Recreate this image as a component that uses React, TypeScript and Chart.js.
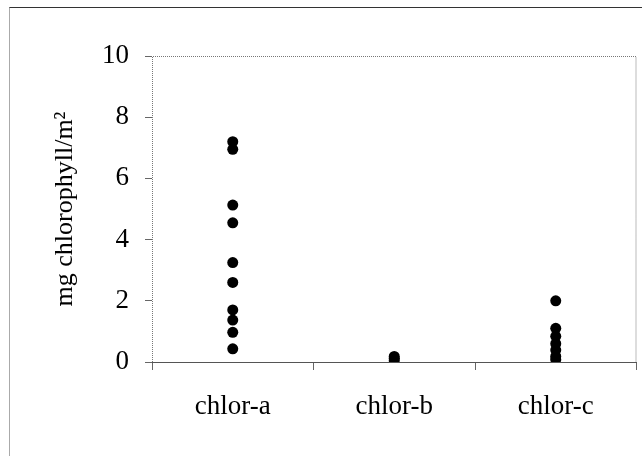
import React, { useEffect, useRef } from "react";
import { Chart, registerables } from "chart.js";

Chart.register(...registerables);

const categories = ["chlor-a", "chlor-b", "chlor-c"];
const chlorA = [7.2, 6.95, 5.13, 4.55, 3.25, 2.6, 1.7, 1.37, 0.97, 0.43];
const chlorB = [0.18, 0.12, 0.05];
const chlorC = [2.0, 1.1, 0.84, 0.6, 0.39, 0.18, 0.08];
const yTicks = [0, 2, 4, 6, 8, 10];
const yTitle = "mg chlorophyll/m\u00B2";

const FONT = "'Liberation Serif', 'Times New Roman', serif";

const plotFrame = {
  id: "plotFrame",
  afterDraw(chart: any) {
    const { ctx, chartArea } = chart;
    const { left, top, right, bottom } = chartArea;
    ctx.save();
    ctx.strokeStyle = "#777";
    ctx.lineWidth = 1;
    ctx.setLineDash([1, 1]);
    ctx.beginPath();
    ctx.moveTo(left + 0.5, bottom);
    ctx.lineTo(left + 0.5, top + 0.5);
    ctx.lineTo(right - 0.5, top + 0.5);
    ctx.lineTo(right - 0.5, bottom);
    ctx.stroke();
    ctx.restore();
  },
};

export default function App() {
  const ref = useRef<HTMLCanvasElement | null>(null);

  useEffect(() => {
    if (!ref.current) return;
    const series = [chlorA, chlorB, chlorC];
    const chart = new Chart(ref.current, {
      type: "scatter",
      data: {
        labels: categories,
        datasets: series.map((vals, i) => ({
          label: categories[i],
          data: vals.map((v) => ({ x: categories[i], y: v })),
          backgroundColor: "#000",
          borderColor: "#000",
          borderWidth: 0,
          pointRadius: 5.5,
          pointHoverRadius: 5.5,
        })),
      } as any,
      options: {
        responsive: false,
        animation: false,
        devicePixelRatio: 1,
        layout: { padding: { top: 56, right: 5, left: 0, bottom: 0 } },
        plugins: {
          legend: { display: false },
          tooltip: { enabled: false },
        },
        scales: {
          x: {
            type: "category",
            labels: categories,
            offset: true,
            afterFit: (s: any) => {
              s.height = 94;
            },
            grid: {
              offset: true,
              drawOnChartArea: false,
              drawTicks: true,
              tickLength: 8,
              tickColor: "#666",
            },
            border: { display: true, color: "#555", width: 1 },
            ticks: {
              color: "#000",
              font: { family: FONT, size: 27 },
              padding: 21,
              maxRotation: 0,
            },
          },
          y: {
            type: "linear",
            min: 0,
            max: 10,
            afterFit: (s: any) => {
              s.width = 152;
            },
            afterBuildTicks: (s: any) => {
              s.ticks = yTicks.map((v) => ({ value: v }));
            },
            grid: {
              drawOnChartArea: false,
              drawTicks: true,
              tickLength: 7,
              tickColor: "#666",
            },
            border: { display: false },
            ticks: {
              color: "#000",
              font: { family: FONT, size: 27 },
              padding: 16,
            },
            title: {
              display: true,
              text: yTitle,
              color: "#000",
              font: { family: FONT, size: 26 },
              padding: { top: 50, bottom: 0 },
            },
          },
        },
      },
      plugins: [plotFrame],
    } as any);
    return () => chart.destroy();
  }, []);

  return (
    <div style={{ position: "absolute", left: 0, top: 0, width: 642, height: 456, background: "#fff" }}>
      <div
        style={{
          position: "absolute",
          left: 9,
          top: 7,
          width: 633,
          height: 449,
          borderTop: "1px solid #333",
          borderLeft: "1px solid #aaa",
          boxSizing: "border-box",
          pointerEvents: "none",
        }}
      />
      <canvas ref={ref} width={642} height={456} style={{ position: "absolute", left: 0, top: 0 }} />
    </div>
  );
}
